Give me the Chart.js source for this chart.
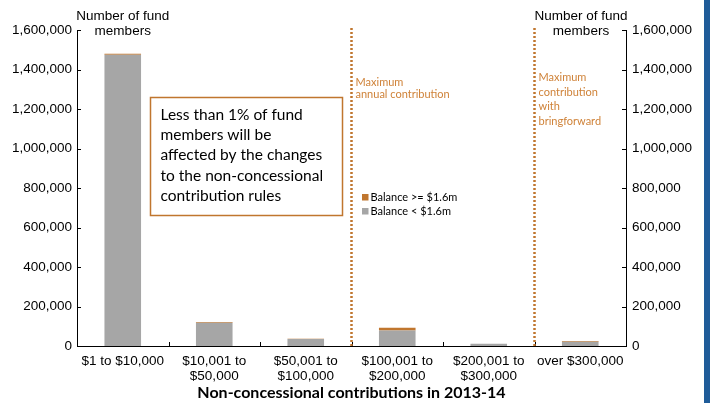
<!DOCTYPE html>
<html>
<head>
<meta charset="utf-8">
<title>Non-concessional contributions</title>
<script src="https://cdn.jsdelivr.net/npm/chart.js@4.4.1/dist/chart.umd.min.js"></script>
<style>
  html, body { margin: 0; padding: 0; background: #fff; }
  #wrap { position: relative; width: 710px; height: 403px; }
  #side { position: absolute; left: 704px; top: 0; width: 6px; height: 403px; background: #1F5C99; }
</style>
</head>
<body>
<div id="wrap">
  <canvas id="chart" width="710" height="403"></canvas>
  <div id="side"></div>
</div>
<script>
// Contribution bands and members per band (2013-14)
const categories = [
  ['$1 to $10,000'],
  ['$10,001 to', '$50,000'],
  ['$50,001 to', '$100,000'],
  ['$100,001 to', '$200,000'],
  ['$200,001 to', '$300,000'],
  ['over $300,000']
];
const balanceUnder = [1475000, 118000, 35500, 78000, 11000, 21000];
const balanceOver = [5000, 4000, 1500, 15000, 1000, 4000];

const seriesNames = ['Balance < $1.6m', 'Balance >= $1.6m'];
const axisTitle = ['Number of fund', 'members'];
const xTitle = 'Non-concessional contributions in 2013-14';
const noteLines = [
  'Less than 1% of fund',
  'members will be',
  'affected by the changes',
  'to the non-concessional',
  'contribution rules'
];
const capLines = [
  { after: 2, text: ['Maximum', 'annual contribution'] },
  { after: 4, text: ['Maximum', 'contribution', 'with', 'bringforward'] }
];

const GREY = '#A6A6A6';
const ORANGE = '#C0762E';
const ORANGE_TEXT = '#CF8238';
const ARIAL = 'Arial, "Liberation Sans", sans-serif';
const CAL = 'Lato, "Open Sans", sans-serif';

// category boundary between index i and i+1
function boundary(x, i) {
  return (x.getPixelForValue(i) + x.getPixelForValue(i + 1)) / 2;
}

const extras = {
  id: 'extras',
  afterDraw(chart) {
    const { ctx, chartArea: a, scales } = chart;
    const x = scales.x, yl = scales.y, yr = scales.y2;
    ctx.save();

    // inward tick marks
    ctx.strokeStyle = '#000';
    ctx.lineWidth = 1;
    ctx.beginPath();
    yl.ticks.forEach(t => {
      const py = Math.round(yl.getPixelForValue(t.value)) + 0.5;
      ctx.moveTo(a.left, py); ctx.lineTo(a.left + 4, py);
    });
    yr.ticks.forEach(t => {
      const py = Math.round(yr.getPixelForValue(t.value)) + 0.5;
      ctx.moveTo(a.right, py); ctx.lineTo(a.right - 4, py);
    });
    for (let i = 0; i < categories.length - 1; i++) {
      const px = Math.round(boundary(x, i)) + 0.5;
      ctx.moveTo(px, a.bottom); ctx.lineTo(px, a.bottom - 4);
    }
    ctx.stroke();

    // dotted limit lines with captions
    capLines.forEach(c => {
      const px = boundary(x, c.after);
      ctx.strokeStyle = ORANGE;
      ctx.lineWidth = 2.5;
      ctx.setLineDash([2, 2]);
      ctx.beginPath();
      ctx.moveTo(px, a.top - 2); ctx.lineTo(px, a.bottom);
      ctx.stroke();
      ctx.setLineDash([]);
      ctx.fillStyle = ORANGE_TEXT;
      ctx.font = '11px ' + CAL;
      ctx.textAlign = 'left';
      ctx.textBaseline = 'middle';
      const startY = c.text.length > 2 ? 77.5 : 82;
      const step = c.text.length > 2 ? 14.5 : 12.5;
      c.text.forEach((s, k) => ctx.fillText(s, px + 4, startY + k * step));
    });

    // axis titles over both y axes
    ctx.fillStyle = '#000';
    ctx.font = '13.5px ' + ARIAL;
    ctx.textAlign = 'center';
    ctx.textBaseline = 'middle';
    const lx = x.getPixelForValue(0), rx = a.right - 45;
    axisTitle.forEach((s, k) => {
      ctx.fillText(s, lx, 16 + k * 15.5);
      ctx.fillText(s, rx, 16 + k * 15.5);
    });

    // x axis title
    ctx.font = 'bold 16px ' + CAL;
    ctx.fillText(xTitle, (a.left + a.right) / 2, 392.5);

    // note box
    const bx = 150.5, by = 97.5, bw = 192, bh = 118;
    ctx.fillStyle = '#fff';
    ctx.fillRect(bx, by, bw, bh);
    ctx.strokeStyle = ORANGE;
    ctx.lineWidth = 1.5;
    ctx.strokeRect(bx, by, bw, bh);
    ctx.fillStyle = '#000';
    ctx.font = '15.5px ' + CAL;
    ctx.textAlign = 'left';
    noteLines.forEach((s, k) => ctx.fillText(s, 160.5, 114.5 + k * 20.4));

    // legend, top series first
    const ds = chart.data.datasets.slice(0, 2).reverse();
    ctx.font = '11px ' + CAL;
    ds.forEach((d, k) => {
      const ly = 197 + k * 14;
      ctx.fillStyle = d.backgroundColor;
      ctx.fillRect(362, ly - 3, 6.5, 6.5);
      ctx.fillStyle = '#000';
      ctx.fillText(d.label, 370.5, ly + 0.5);
    });

    ctx.restore();
  }
};

function yAxis(position, width, pad) {
  return {
    type: 'linear',
    position: position,
    stacked: true,
    min: 0,
    max: 1600000,
    grid: { display: false, drawTicks: false },
    border: { display: true, color: '#000', width: 1 },
    ticks: {
      stepSize: 200000,
      padding: pad,
      color: '#000',
      font: { family: ARIAL, size: 13.5 },
      callback: v => v.toLocaleString('en-US')
    },
    afterFit(scale) { scale.width = width; }
  };
}

function build() {
  new Chart(document.getElementById('chart'), {
    type: 'bar',
    data: {
      labels: categories,
      datasets: [
        { label: seriesNames[0], data: balanceUnder, backgroundColor: GREY, yAxisID: 'y' },
        { label: seriesNames[1], data: balanceOver, backgroundColor: ORANGE, yAxisID: 'y' },
        // empty set so the right-hand axis is laid out
        { label: '', data: [], yAxisID: 'y2' }
      ]
    },
    options: {
      responsive: false,
      animation: false,
      layout: { padding: { top: 30, left: 0, right: 0, bottom: 0 } },
      datasets: { bar: { categoryPercentage: 1, barPercentage: 0.4 } },
      plugins: { legend: { display: false }, tooltip: { enabled: false } },
      scales: {
        x: {
          stacked: true,
          grid: { display: false, drawTicks: false },
          border: { display: true, color: '#000', width: 1 },
          ticks: {
            padding: 8,
            maxRotation: 0,
            autoSkip: false,
            color: '#000',
            font: { family: ARIAL, size: 13.5, lineHeight: 1.1 }
          },
          afterFit(scale) { scale.height = 57; }
        },
        y: yAxis('left', 77, 5),
        y2: yAxis('right', 84, 6)
      }
    },
    plugins: [extras]
  });
}

document.fonts.load('15px Lato').then(() => document.fonts.load('bold 16px Lato')).then(build, build);
</script>
</body>
</html>
